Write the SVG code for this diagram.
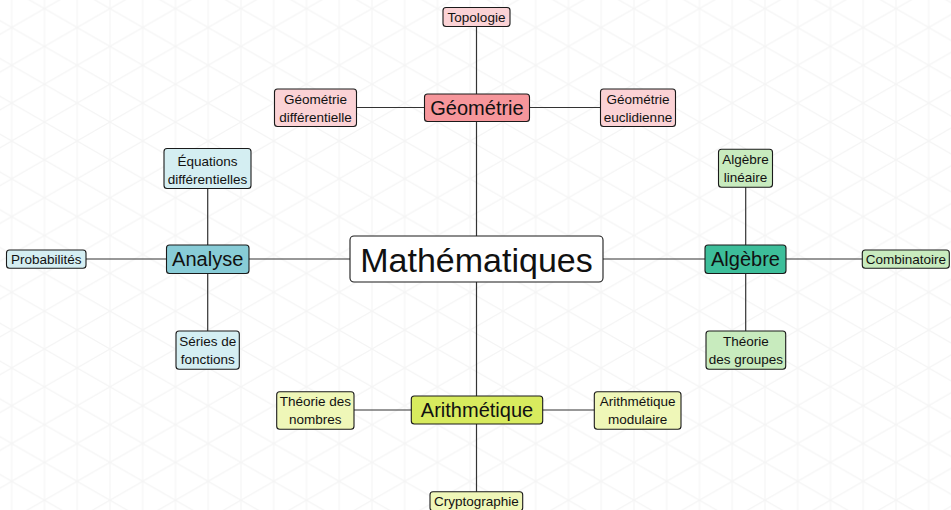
<svg xmlns="http://www.w3.org/2000/svg" width="951" height="510" viewBox="0 0 951 510">
<style>
text{font-family:"Liberation Sans","DejaVu Sans",sans-serif;fill:#111;text-anchor:middle}
.n rect{stroke:#1a1a1a;stroke-width:1.1}
.c{font-size:34px}
.m{font-size:20px}
.s{font-size:13.5px}
.geoM{fill:#f6969b}.geoC{fill:#fbd2d5}
.anaM{fill:#88ccd7}.anaC{fill:#d4eef2}
.algM{fill:#3dbe9a}.algC{fill:#c8ebbe}
.ariM{fill:#d8eb5e}.ariC{fill:#eff7b8}
#connectors line{stroke:#333;stroke-width:1.2}
</style>
<defs>
<pattern id="grid" patternUnits="userSpaceOnUse" x="11.7" y="27.5" width="65.5" height="37.82">
<g stroke="#f4f4f4" stroke-width="1.1" fill="none">
<line x1="0" y1="-10" x2="0" y2="50"/>
<line x1="32.75" y1="-10" x2="32.75" y2="50"/>
<line x1="65.5" y1="-10" x2="65.5" y2="50"/>
<line x1="-65.5" y1="-37.82" x2="131" y2="75.64"/>
<line x1="-65.5" y1="0" x2="131" y2="113.46"/>
<line x1="-65.5" y1="-75.64" x2="131" y2="37.82"/>
<line x1="-65.5" y1="75.64" x2="131" y2="-37.82"/>
<line x1="-65.5" y1="37.82" x2="131" y2="-75.64"/>
<line x1="-65.5" y1="113.46" x2="131" y2="0"/>
</g>
</pattern>
</defs>
<rect width="951" height="510" fill="#fff"/>
<rect width="951" height="510" fill="url(#grid)"/>
<g id="connectors">
<line x1="476.5" y1="259" x2="476.5" y2="107.5"/>
<line x1="476.5" y1="259" x2="207.7" y2="259"/>
<line x1="476.5" y1="259" x2="745.7" y2="259"/>
<line x1="476.5" y1="259" x2="476.5" y2="410"/>
<line x1="476.5" y1="107.5" x2="476.5" y2="17"/>
<line x1="476.5" y1="107.5" x2="315.5" y2="107.5"/>
<line x1="476.5" y1="107.5" x2="638" y2="107.5"/>
<line x1="207.7" y1="259" x2="207.7" y2="168"/>
<line x1="207.7" y1="259" x2="46" y2="259"/>
<line x1="207.7" y1="259" x2="207.7" y2="350"/>
<line x1="745.7" y1="259" x2="745.7" y2="168"/>
<line x1="745.7" y1="259" x2="905" y2="259"/>
<line x1="745.7" y1="259" x2="745.7" y2="350"/>
<line x1="476.5" y1="410" x2="315" y2="410"/>
<line x1="476.5" y1="410" x2="638" y2="410"/>
<line x1="476.5" y1="410" x2="476.5" y2="500"/>
</g>
<g id="mathematiques" class="n"><rect x="350" y="236" width="253" height="46" rx="4" fill="#fff"/><text class="c" x="476.5" y="271.5">Mathématiques</text></g>
<g id="geometrie" class="n"><rect class="geoM" x="424.5" y="94" width="105" height="27.5" rx="3"/><text class="m" x="477" y="114.8">Géométrie</text></g>
<g id="topologie" class="n"><rect class="geoC" x="443" y="7.5" width="67" height="19" rx="3"/><text class="s" x="476.5" y="21.8">Topologie</text></g>
<g id="geo-diff" class="n"><rect class="geoC" x="274.5" y="89" width="82" height="37.5" rx="3"/><text class="s" x="315.5" y="103.5">Géométrie</text><text class="s" x="315.5" y="121.5">différentielle</text></g>
<g id="geo-eucl" class="n"><rect class="geoC" x="600.5" y="89" width="75" height="37.5" rx="3"/><text class="s" x="638" y="103.5">Géométrie</text><text class="s" x="638" y="121.5">euclidienne</text></g>
<g id="analyse" class="n"><rect class="anaM" x="166.5" y="245" width="82.5" height="28.5" rx="3"/><text class="m" x="207.7" y="266.2">Analyse</text></g>
<g id="equations" class="n"><rect class="anaC" x="164" y="148.5" width="87" height="40" rx="3"/><text class="s" x="207.5" y="165.5">Équations</text><text class="s" x="207.5" y="183.5">différentielles</text></g>
<g id="probabilites" class="n"><rect class="anaC" x="6.5" y="250" width="79.5" height="18.3" rx="3"/><text class="s" x="46.3" y="263.8">Probabilités</text></g>
<g id="series" class="n"><rect class="anaC" x="176" y="331" width="63.3" height="38.3" rx="3"/><text class="s" x="207.7" y="345.7">Séries de</text><text class="s" x="207.7" y="363.7">fonctions</text></g>
<g id="algebre" class="n"><rect class="algM" x="705" y="245" width="81" height="28.5" rx="3"/><text class="m" x="745.5" y="266.2">Algèbre</text></g>
<g id="algebre-lin" class="n"><rect class="algC" x="718.5" y="149.3" width="54" height="38" rx="3"/><text class="s" x="745.5" y="164">Algèbre</text><text class="s" x="745.5" y="182">linéaire</text></g>
<g id="combinatoire" class="n"><rect class="algC" x="862.3" y="250" width="87" height="18.3" rx="3"/><text class="s" x="905.8" y="263.8">Combinatoire</text></g>
<g id="groupes" class="n"><rect class="algC" x="706" y="331" width="79.7" height="38.3" rx="3"/><text class="s" x="745.8" y="345.7">Théorie</text><text class="s" x="745.8" y="363.7">des groupes</text></g>
<g id="arithmetique" class="n"><rect class="ariM" x="411.3" y="396" width="131.4" height="28" rx="3"/><text class="m" x="477" y="417">Arithmétique</text></g>
<g id="nombres" class="n"><rect class="ariC" x="276.7" y="391.7" width="77.3" height="37.6" rx="3"/><text class="s" x="315.3" y="406.2">Théorie des</text><text class="s" x="315.3" y="424.2">nombres</text></g>
<g id="modulaire" class="n"><rect class="ariC" x="594.3" y="391.7" width="86.7" height="37.6" rx="3"/><text class="s" x="637.7" y="406.2">Arithmétique</text><text class="s" x="637.7" y="424.2">modulaire</text></g>
<g id="cryptographie" class="n"><rect class="ariC" x="430" y="491.7" width="92.7" height="19" rx="3"/><text class="s" x="476.3" y="505.5">Cryptographie</text></g>
</svg>
